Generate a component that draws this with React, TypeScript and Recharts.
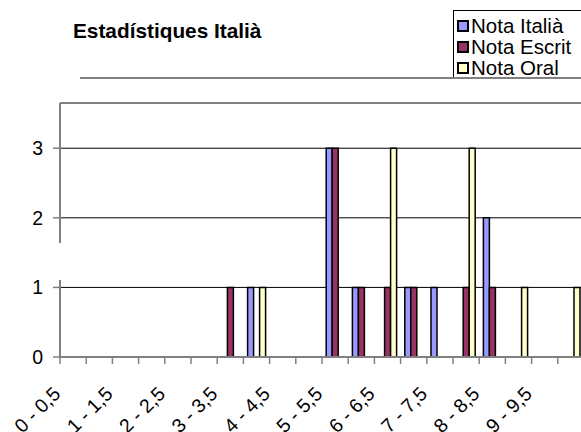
import { BarChart, Bar, XAxis, YAxis, CartesianGrid } from "recharts";

const categories = [
  "0 - 0,5", "0,5 - 1", "1 - 1,5", "1,5 - 2", "2 - 2,5", "2,5 - 3", "3 - 3,5",
  "3,5 - 4", "4 - 4,5", "4,5 - 5", "5 - 5,5", "5,5 - 6", "6 - 6,5", "6,5 - 7",
  "7 - 7,5", "7,5 - 8", "8 - 8,5", "8,5 - 9", "9 - 9,5", "9,5 - 10",
];
const notaItalia = [0, 0, 0, 0, 0, 0, 0, 1, 0, 0, 3, 1, 0, 1, 1, 0, 2, 0, 0, 0];
const notaEscrit = [0, 0, 0, 0, 0, 0, 1, 0, 0, 0, 3, 1, 1, 1, 0, 1, 1, 0, 0, 0];
const notaOral = [0, 0, 0, 0, 0, 0, 0, 1, 0, 0, 0, 0, 3, 0, 0, 3, 0, 1, 0, 1];
const yTicks = [0, 1, 2, 3];

const series = [
  { key: "italia", name: "Nota Italià", color: "#9999FF" },
  { key: "escrit", name: "Nota Escrit", color: "#993366" },
  { key: "oral", name: "Nota Oral", color: "#FFFFCC" },
];

const data = categories.map((cat, i) => ({
  cat,
  italia: notaItalia[i],
  escrit: notaEscrit[i],
  oral: notaOral[i],
}));

const FONT = "'Liberation Sans', Arial, sans-serif";
const PLOT_LEFT = 60;
const PLOT_RIGHT = 584;
const BAND = (PLOT_RIGHT - PLOT_LEFT) / categories.length;

// Excel style: tick marks between categories, label only on every other one
const CatTick = (props: any) => {
  const { x, y, payload, index } = props;
  const axisY = y - 7;
  const left = x - BAND / 2;
  return (
    <g>
      <line x1={left} y1={axisY} x2={left} y2={axisY + 7} stroke="#808080" strokeWidth={1.5} />
      {index % 2 === 0 && (
        <text
          transform={`translate(${x - 11.5},${axisY + 38}) rotate(-45)`}
          textAnchor="end"
          fontFamily={FONT}
          fontSize={19.5}
          fill="#000"
        >
          {payload.value}
        </text>
      )}
    </g>
  );
};

export default function App() {
  return (
    <div
      style={{
        position: "absolute",
        left: 0,
        top: 0,
        width: 581,
        height: 432,
        overflow: "hidden",
        background: "#fff",
        fontFamily: FONT,
      }}
    >
      <div
        style={{
          position: "absolute",
          left: 73,
          top: 21,
          fontSize: 20.8,
          lineHeight: "20px",
          fontWeight: "bold",
          whiteSpace: "nowrap",
        }}
      >
        Estadístiques Italià
      </div>
      <div style={{ position: "absolute", left: 80, top: 77, width: 501, height: 2, background: "#808080" }} />
      <div
        style={{
          position: "absolute",
          left: 453,
          top: 10,
          width: 150,
          height: 67,
          border: "1px solid #000",
          borderBottom: "none",
          paddingTop: 4,
          paddingLeft: 3,
          boxSizing: "border-box",
        }}
      >
        {series.map((s) => (
          <div
            key={s.key}
            style={{ display: "flex", alignItems: "center", height: 21, fontSize: 20.5, lineHeight: "21px", whiteSpace: "nowrap" }}
          >
            <span
              style={{
                display: "inline-block",
                width: 8,
                height: 8,
                border: "2px solid #000",
                background: s.color,
                marginRight: 2,
              }}
            />
            <span>{s.name}</span>
          </div>
        ))}
      </div>
      <div style={{ position: "absolute", left: 0, top: 0 }}>
        <BarChart
          width={600}
          height={432}
          data={data}
          margin={{ top: 103, right: 600 - PLOT_RIGHT, bottom: 0, left: 0 }}
          barCategoryGap="16%"
          barGap={0}
        >
          <CartesianGrid vertical={false} stroke="#000" strokeWidth={1} />
          <XAxis
            dataKey="cat"
            interval={0}
            height={75}
            tickLine={false}
            tickSize={7}
            tickMargin={0}
            axisLine={{ stroke: "#808080", strokeWidth: 2 }}
            tick={<CatTick />}
          />
          <YAxis
            width={PLOT_LEFT}
            domain={[0, 3.65]}
            ticks={yTicks}
            tickSize={7}
            tickMargin={10}
            axisLine={{ stroke: "#808080", strokeWidth: 2 }}
            tickLine={{ stroke: "#808080", strokeWidth: 1.5 }}
            tick={{ fill: "#000", fontSize: 19.5, fontFamily: FONT }}
          />
          {series.map((s) => (
            <Bar
              key={s.key}
              dataKey={s.key}
              name={s.name}
              fill={s.color}
              stroke="#000"
              strokeWidth={1.5}
              isAnimationActive={false}
            />
          ))}
        </BarChart>
      </div>
      {/* break in the value axis, as in the source picture */}
      <div style={{ position: "absolute", left: 57, top: 243, width: 6, height: 37, background: "#fff" }} />
    </div>
  );
}
